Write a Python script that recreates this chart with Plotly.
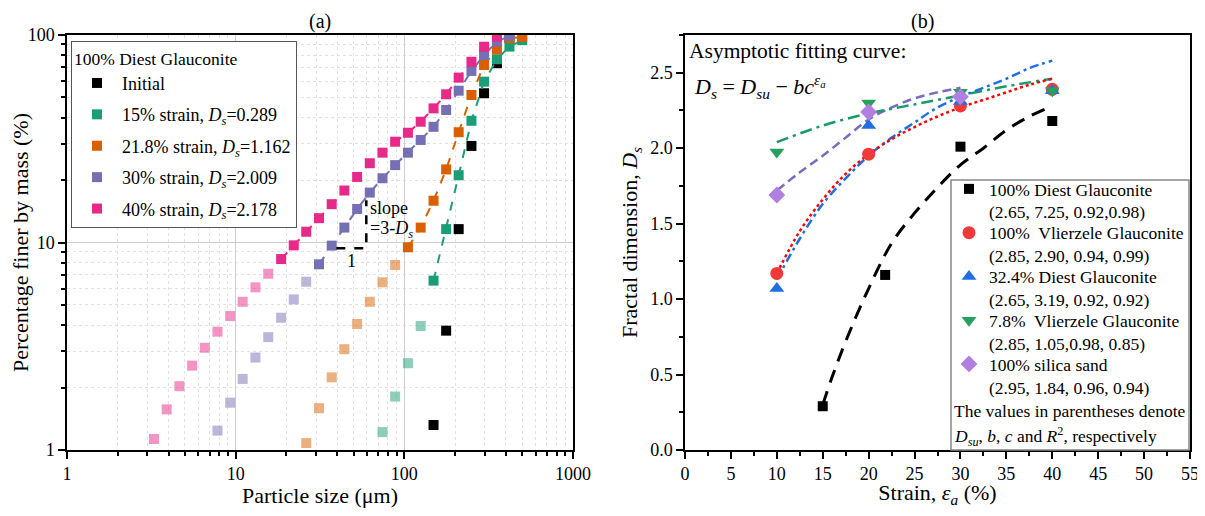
import math
import plotly.graph_objects as go

# ---------------------------------------------------------------------------
# DATA
# ---------------------------------------------------------------------------
# particle size grid (um), common to all gradation curves
SIZES = [3.28, 3.90, 4.64, 5.52, 6.56, 7.80, 9.28, 11.0, 13.1, 15.6,
         18.6, 22.1, 26.2, 31.2, 37.1, 44.1, 52.5, 62.4, 74.2, 88.2,
         105, 125, 149, 177, 210, 250, 297, 354, 420, 500]

# (start index in SIZES, light points not used in fit, fitted points)
INIT_START = 22
INIT_PTS = [1.32, 3.76, 11.6, 29.2, 52.4, 73.1, 97.0]

S15_START = 18
S15_LIGHT = [1.22, 1.81, 2.62, 3.96]
S15_FIT = [6.55, 11.6, 21.1, 38.6, 59.6, 76.4, 87.9, 94.4]

S218_START = 12
S218_LIGHT = [1.08, 1.59, 2.24, 3.06, 4.05, 5.18, 6.43, 7.79]
S218_FIT = [9.48, 11.8, 15.9, 22.5, 34.0, 51.4, 71.7, 85.3, 96.4, 98.0]

S30_START = 5
S30_LIGHT = [1.24, 1.69, 2.20, 2.79, 3.50, 4.34, 5.32, 6.47]
S30_FIT = [7.85, 9.66, 11.8, 14.5, 17.4, 20.4, 23.6, 27.1, 31.2, 36.1,
           43.5, 53.9, 67.1, 80.1, 92.9, 99.0]

S40_START = 0
S40_LIGHT = [1.13, 1.57, 2.03, 2.55, 3.11, 3.72, 4.42, 5.18, 6.08, 7.07]
S40_FIT = [8.32, 9.69, 11.27, 13.1, 15.3, 17.8, 20.7, 24.1, 27.1, 30.6,
           33.8, 38.2, 44.3, 51.8, 62.3, 74.3, 87.8, 98.1]

LEG_A = ["Initial",
         "15% strain, <i>D<sub>s</sub></i>=0.289",
         "21.8% strain, <i>D<sub>s</sub></i>=1.162",
         "30% strain, <i>D<sub>s</sub></i>=2.009",
         "40% strain, <i>D<sub>s</sub></i>=2.178"]

SLOPE_X = [39.5, 59.5, 59.5]
SLOPE_Y = [9.38, 9.38, 16.0]

# panel (b): fractal dimension vs strain
DG100_X = [15, 21.8, 30, 40]
DG100_Y = [0.29, 1.16, 2.01, 2.18]
VG100_X = [10, 20, 30, 40]
VG100_Y = [1.17, 1.96, 2.28, 2.39]
DG324_X = [10, 20, 30, 40]
DG324_Y = [1.07, 2.15, 2.31, 2.38]
VG78_X = [10, 20, 30, 40]
VG78_Y = [1.975, 2.30, 2.37, 2.38]
SAND_X = [10, 20, 30]
SAND_Y = [1.69, 2.24, 2.34]

# fitted curves
FIT_DG100_X = [15, 16, 17.5, 20, 22.5, 25, 27.5, 30, 32.5, 35, 37.5, 40]
FIT_DG100_Y = [0.30, 0.48, 0.72, 1.07, 1.37, 1.57, 1.74, 1.89, 2.00, 2.12, 2.21, 2.28]
FIT_VG100_X = [10, 12.5, 15, 17.5, 20, 22.5, 25, 27.5, 30, 32.5, 35, 37.5, 40]
FIT_VG100_Y = [1.17, 1.45, 1.66, 1.83, 1.96, 2.06, 2.14, 2.21, 2.27, 2.32, 2.37, 2.42, 2.46]
FIT_DG324_X = [10, 12.5, 15, 17.5, 20, 22.5, 25, 27.5, 30, 32.5, 35, 37.5, 40]
FIT_DG324_Y = [1.13, 1.40, 1.63, 1.80, 1.95, 2.07, 2.17, 2.27, 2.34, 2.40, 2.46, 2.53, 2.58]
FIT_VG78_X = [10, 15, 20, 25, 30, 35, 40]
FIT_VG78_Y = [2.04, 2.15, 2.23, 2.29, 2.35, 2.41, 2.46]
FIT_SAND_X = [10, 12.5, 15, 17.5, 20, 22.5, 25, 27.5, 30]
FIT_SAND_Y = [1.72, 1.84, 1.95, 2.07, 2.19, 2.27, 2.33, 2.37, 2.40]

LEG_B = ["100% Diest Glauconite",
         "100%  Vlierzele Glauconite",
         "32.4% Diest Glauconite",
         "7.8%  Vlierzele Glauconite",
         "100% silica sand"]
LEG_B_PARAMS = ["(2.65, 7.25, 0.92,0.98)",
                "(2.85, 2.90, 0.94, 0.99)",
                "(2.65, 3.19, 0.92, 0.92)",
                "(2.85, 1.05,0.98, 0.85)",
                "(2.95, 1.84, 0.96, 0.94)"]

# ---------------------------------------------------------------------------
# STYLE
# ---------------------------------------------------------------------------
OFF = 8                      # page body margin
W, H = 1205 - OFF, 516 - 2 * OFF
FONT = "Liberation Serif"
C_INIT = "#000000"
C_15 = "#1B9E77"
C_218 = "#D95F02"
C_30 = "#7570B3"
C_40 = "#E7298A"

C_RED = "#F03A3A"
C_BLUE = "#1F6FE0"
C_GREEN = "#27A05E"
C_PURP = "#B07FE0"
C_PURP_LINE = "#7A6CC0"


def px(x):
    # window pixel -> paper fraction
    return (x - OFF) / W


def py(y):
    return 1 - (y - OFF) / H


fig = go.Figure()


def gradation(start, light, fit, color, name, group, line=True):
    n_light = len(light)
    if n_light:
        fig.add_trace(go.Scatter(
            x=SIZES[start:start + n_light], y=light, mode="markers",
            marker=dict(symbol="square", size=10, color=color, opacity=0.5),
            showlegend=False, xaxis="x", yaxis="y"))
    xs = SIZES[start + n_light:start + n_light + len(fit)]
    if line:
        fig.add_trace(go.Scatter(
            x=xs, y=fit, mode="lines",
            line=dict(color=color, width=2, dash="dash"),
            showlegend=False, xaxis="x", yaxis="y"))
    fig.add_trace(go.Scatter(
        x=xs, y=fit, mode="markers", name=name,
        marker=dict(symbol="square", size=10, color=color),
        legend="legend", legendgroup=group, xaxis="x", yaxis="y"))


gradation(INIT_START, [], INIT_PTS, C_INIT, LEG_A[0], "a0", line=False)
gradation(S15_START, S15_LIGHT, S15_FIT, C_15, LEG_A[1], "a1")
gradation(S218_START, S218_LIGHT, S218_FIT, C_218, LEG_A[2], "a2")
gradation(S30_START, S30_LIGHT, S30_FIT, C_30, LEG_A[3], "a3")
gradation(S40_START, S40_LIGHT, S40_FIT, C_40, LEG_A[4], "a4")

fig.add_trace(go.Scatter(
    x=SLOPE_X, y=SLOPE_Y, mode="lines",
    line=dict(color="black", width=2.5, dash="dash"),
    showlegend=False, xaxis="x", yaxis="y"))

# panel (b): curves
curves = [
    (FIT_DG100_X, FIT_DG100_Y, "black", "14px,9px", 3),
    (FIT_SAND_X, FIT_SAND_Y, C_PURP_LINE, "9px,5px", 2.5),
    (FIT_VG78_X, FIT_VG78_Y, "#1A9A6A", "12px,5px,3px,5px", 2.5),
    (FIT_DG324_X, FIT_DG324_Y, C_BLUE, "9px,4px,3px,4px", 2.5),
    (FIT_VG100_X, FIT_VG100_Y, "#FF0000", "dot", 2.5),
]
for xs, ys, col, dash, wd in curves:
    fig.add_trace(go.Scatter(
        x=xs, y=ys, mode="lines", line=dict(color=col, width=wd, dash=dash, shape="spline"),
        showlegend=False, xaxis="x2", yaxis="y2"))

points = [
    (DG100_X, DG100_Y, "square", "black", 10),
    (VG100_X, VG100_Y, "circle", C_RED, 13),
    (DG324_X, DG324_Y, "triangle-up", C_BLUE, 13),
    (VG78_X, VG78_Y, "triangle-down", C_GREEN, 13),
    (SAND_X, SAND_Y, "diamond", C_PURP, 13),
]
for i, (xs, ys, sym, col, sz) in enumerate(points):
    fig.add_trace(go.Scatter(
        x=xs, y=ys, mode="markers", name=LEG_B[i],
        marker=dict(symbol=sym, size=sz, color=col),
        legend="legend2", legendgroup=f"b{i}", xaxis="x2", yaxis="y2"))

# ---------------------------------------------------------------------------
# LAYOUT
# ---------------------------------------------------------------------------
ax_common = dict(
    showline=True, linecolor="black", linewidth=1.5, mirror=True,
    ticks="outside", ticklen=7, tickwidth=1.5, tickcolor="black",
    tickfont=dict(family=FONT, size=18, color="black"),
    zeroline=False, automargin=False, ticklabeloverflow="allow",
)
TITLE_FONT = dict(family=FONT, size=22, color="black")

fig.update_layout(
    width=W, height=H,
    margin=dict(l=0, r=0, t=0, b=0, autoexpand=False),
    paper_bgcolor="white", plot_bgcolor="white",
    font=dict(family=FONT, size=18, color="black"),
    xaxis=dict(
        **ax_common, type="log", range=[0, 3], dtick=1,
        domain=[px(67), px(573)], anchor="y",
        showgrid=True, gridcolor="#CFCFCF", gridwidth=1,
        minor=dict(dtick="D1", showgrid=True, gridcolor="#E2E2E2", griddash="dot",
                   ticks="outside", ticklen=4, tickcolor="black"),
        title=dict(text="Particle size (μm)", font=TITLE_FONT, standoff=9),
    ),
    yaxis=dict(
        **ax_common, type="log", range=[0, 2], dtick=1,
        domain=[py(450), py(35)], anchor="x",
        showgrid=True, gridcolor="#CFCFCF", gridwidth=1,
        minor=dict(dtick="D1", showgrid=True, gridcolor="#E2E2E2", griddash="dot",
                   ticks="outside", ticklen=4, tickcolor="black"),
        title=dict(text="Percentage finer by mass (%)", font=TITLE_FONT, standoff=6),
    ),
    xaxis2=dict(
        **ax_common, range=[0, 55], dtick=5, showgrid=False,
        domain=[px(685), px(1190)], anchor="y2",
        minor=dict(dtick=2.5, ticks="outside", ticklen=4, tickcolor="black"),
        title=dict(text="Strain, <i>ε<sub>a</sub></i> (%)", font=TITLE_FONT, standoff=9),
    ),
    yaxis2=dict(
        **ax_common, range=[0, 2.75], dtick=0.5, tickformat=".1f", showgrid=False,
        domain=[py(450), py(35)], anchor="x2",
        minor=dict(dtick=0.25, ticks="outside", ticklen=4, tickcolor="black"),
        title=dict(text="Fractal dimension, <i>D<sub>s</sub></i>", font=TITLE_FONT, standoff=6),
    ),
    legend=dict(
        x=px(71), y=py(41), xanchor="left", yanchor="top",
        bgcolor="white", bordercolor="#555555", borderwidth=1,
        title=dict(text="100% Diest Glauconite", font=dict(family=FONT, size=17.5)),
        font=dict(family=FONT, size=18), traceorder="grouped", tracegroupgap=5,
        itemwidth=40,
    ),
    legend2=dict(
        x=px(949), y=py(171), xanchor="left", yanchor="top",
        bgcolor="rgba(0,0,0,0)", borderwidth=0,
        font=dict(family=FONT, size=17.5), traceorder="grouped", tracegroupgap=18,
        itemwidth=30,
    ),
    shapes=[
        dict(type="rect", xref="paper", yref="paper",
             x0=px(951), x1=px(1189), y0=py(450), y1=py(180),
             line=dict(color="#888888", width=1.5), fillcolor="white", layer="above"),
    ],
)

ann = [
    dict(text="(a)", x=px(320), y=1.0, xanchor="center", yanchor="top", size=20),
    dict(text="(b)", x=px(922), y=1.0, xanchor="center", yanchor="top", size=20),
    dict(text="Asymptotic fitting curve:", x=px(687), y=py(51), xanchor="left", yanchor="middle", size=21.5),
    dict(text="<i>D<sub>s</sub></i> = <i>D<sub>su</sub></i> − <i>bc</i><sup><i>ε<sub>a</sub></i></sup>",
         x=px(692), y=py(86), xanchor="left", yanchor="middle", size=22),
    dict(text="The values in parentheses denote", x=px(952), y=py(411), xanchor="left", yanchor="middle", size=17.5),
    dict(text="<i>D<sub>su</sub></i>, <i>b</i>, <i>c</i> and <i>R</i><sup>2</sup>, respectively",
         x=px(952), y=py(436), xanchor="left", yanchor="middle", size=17.5),
]
# parameter lines of the right legend
for i, txt in enumerate(LEG_B_PARAMS):
    ann.append(dict(text=txt, x=px(987), y=py(212 + 44 * i), xanchor="left", yanchor="middle", size=17.5))

for a in ann:
    fig.add_annotation(text=a["text"], x=a["x"], y=a["y"], xref="paper", yref="paper",
                       xanchor=a["xanchor"], yanchor=a["yanchor"], showarrow=False,
                       font=dict(family=FONT, size=a["size"], color="black"))

# slope labels (log axes -> log10 coordinates)
fig.add_annotation(text="slope", x=math.log10(60.5), y=math.log10(14.7), xref="x", yref="y",
                   xanchor="left", yanchor="middle", showarrow=False, font=dict(family=FONT, size=18))
fig.add_annotation(text="=3-<i>D<sub>s</sub></i>", x=math.log10(60.5), y=math.log10(11.6), xref="x", yref="y",
                   xanchor="left", yanchor="middle", showarrow=False, font=dict(family=FONT, size=18))
fig.add_annotation(text="1", x=math.log10(48.5), y=math.log10(8.1), xref="x", yref="y",
                   xanchor="center", yanchor="middle", showarrow=False, font=dict(family=FONT, size=18))

fig.write_html("out.html")
